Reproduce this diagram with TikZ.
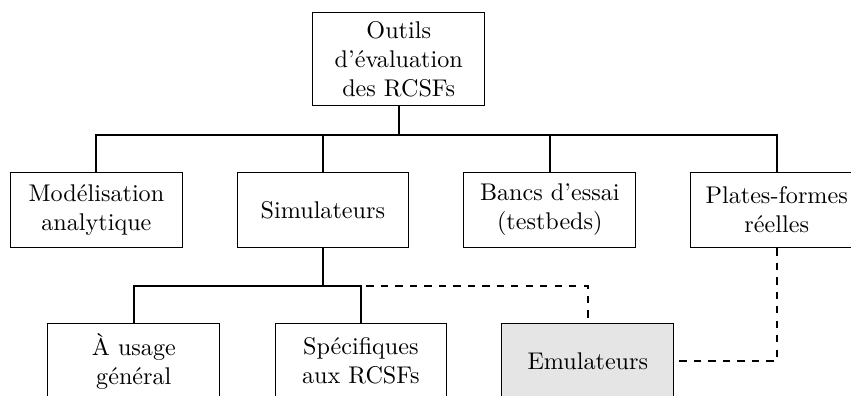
\documentclass[tikz,border=0pt]{standalone}
\usepackage{fontspec}
\begin{document}
\begin{tikzpicture}
        \useasboundingbox (0,0) rectangle (12.387,-5.764);
        \clip (0,0) rectangle (12.387,-5.764);
        \begin{scope}[every node/.style={rectangle,draw=black,align=center,minimum width=2.5cm,minimum height=1.1cm}]
          \node[minimum height=1.36cm] (outils) at (5.804,-0.861) {Outils\\d’évaluation\\des RCSFs};
          \node[] (mod) at (1.403,-3.057) {Modélisation\\analytique};
          \node[] (sim) at (4.700,-3.057) {Simulateurs};
          \node[] (banc) at (8.003,-3.057) {Bancs d’essai\\(testbeds)};
          \node[] (plat) at (11.306,-3.057) {Plates-formes\\réelles};
          \node[] (gen) at (1.948,-5.255) {À usage\\général};
          \node[] (spec) at (5.253,-5.255) {Spécifiques\\aux RCSFs};
          \node[fill=gray!20] (emul) at (8.556,-5.255) {Emulateurs};
        \end{scope}
        \coordinate (j1) at (5.804,-1.965);
        \coordinate (j2) at (4.700,-4.158);
        \begin{scope}[every edge/.style={draw=black,thick},
                      hv/.style={to path={-| (\tikztotarget)}},
                      vh/.style={to path={|- (\tikztotarget)}}]
          \path (outils.south) edge (j1);
          \path (j1) edge[hv] (mod.north);
          \path (j1) edge[hv] (sim.north);
          \path (j1) edge[hv] (banc.north);
          \path (j1) edge[hv] (plat.north);
          \path (sim.south) edge (j2);
          \path (j2) edge[hv] (gen.north);
          \path (j2) edge[hv] (spec.north);
          \path (j2) edge[hv,dashed] (emul.north);
          \path (plat.south) edge[vh,dashed] (emul.east);
        \end{scope}
\end{tikzpicture}
\end{document}
